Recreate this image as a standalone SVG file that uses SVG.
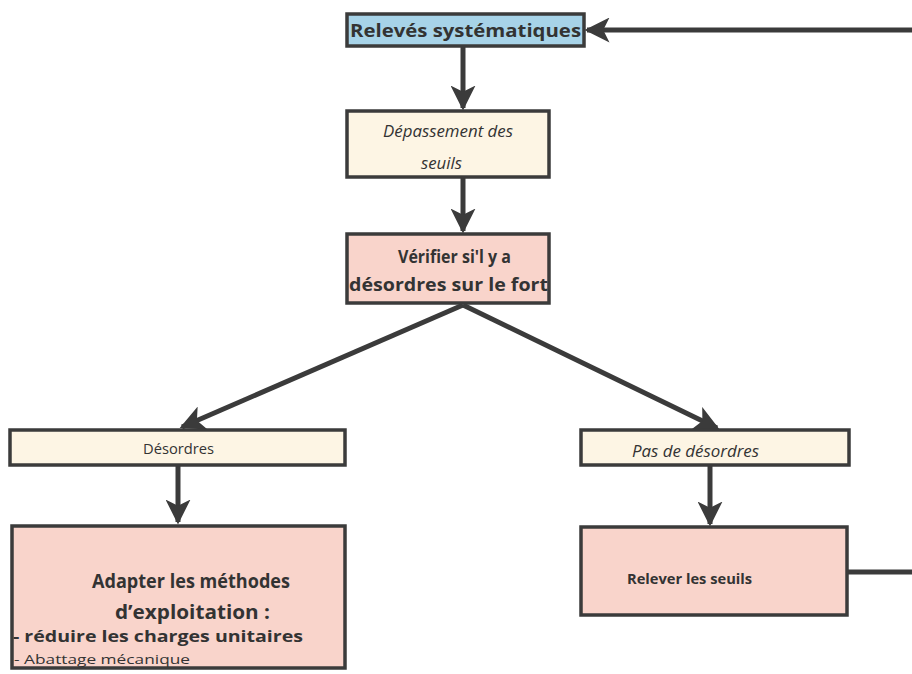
<svg xmlns="http://www.w3.org/2000/svg" width="912" height="674" viewBox="0 0 912 674">
<style>
.box{stroke:#3b3b3b;stroke-width:3.5}
.cream{fill:#fdf5e4}
.pink{fill:#f9d4cb}
.blue{fill:#a7d3e8}
.t{font-family:"Open Sans",Lato,"Liberation Sans",sans-serif;fill:#333}
.b{font-weight:bold}
.i{font-style:italic}
.c{fill:none;stroke:#3b3b3b;stroke-width:5}
</style>
<defs>
<marker id="ah" viewBox="0 0 10 10" refX="9" refY="5" markerWidth="5" markerHeight="5" markerUnits="strokeWidth" orient="auto">
<path d="M0,0 L10,5 L0,10 L2.5,5 Z" fill="#3b3b3b"/>
</marker>
</defs>
<rect width="912" height="674" fill="#ffffff"/>
<g id="connectors">
<line class="c" x1="463" y1="47" x2="463" y2="108" marker-end="url(#ah)"/>
<line class="c" x1="463" y1="178" x2="463" y2="231" marker-end="url(#ah)"/>
<line class="c" x1="463" y1="305" x2="182" y2="427" marker-end="url(#ah)"/>
<line class="c" x1="463" y1="305" x2="717" y2="428" marker-end="url(#ah)"/>
<line class="c" x1="178" y1="466" x2="178" y2="522" marker-end="url(#ah)"/>
<line class="c" x1="710" y1="466" x2="710" y2="524" marker-end="url(#ah)"/>
<polyline class="c" points="848,572 915,572 915,30 587,30" marker-end="url(#ah)"/>
</g>
<g id="n1">
<rect class="box blue" x="347" y="14" width="237" height="32"/>
<text class="t b" x="350" y="37" font-size="18" textLength="231" lengthAdjust="spacingAndGlyphs">Relevés systématiques</text>
</g>
<g id="n2">
<rect class="box cream" x="347" y="111" width="202" height="66"/>
<text class="t i" x="383" y="137" font-size="17" textLength="130" lengthAdjust="spacingAndGlyphs">Dépassement des</text>
<text class="t i" x="421" y="169" font-size="17" textLength="41" lengthAdjust="spacingAndGlyphs">seuils</text>
</g>
<g id="n3">
<rect class="box pink" x="347" y="234" width="202" height="69"/>
<text class="t b" x="398" y="263" font-size="17" textLength="113" lengthAdjust="spacingAndGlyphs">Vérifier si'l y a</text>
<text class="t b" x="349" y="291" font-size="17" textLength="199" lengthAdjust="spacingAndGlyphs">désordres sur le fort</text>
</g>
<g id="n4">
<rect class="box cream" x="10" y="430" width="335" height="35"/>
<text class="t" x="143" y="454" font-size="15" textLength="71" lengthAdjust="spacingAndGlyphs">Désordres</text>
</g>
<g id="n5">
<rect class="box cream" x="581" y="430" width="268" height="35"/>
<text class="t i" x="632" y="457" font-size="16" textLength="127" lengthAdjust="spacingAndGlyphs">Pas de désordres</text>
</g>
<g id="n6">
<rect class="box pink" x="12" y="526" width="333" height="142"/>
<text class="t b" x="92" y="588" font-size="19" textLength="198" lengthAdjust="spacingAndGlyphs">Adapter les méthodes</text>
<text class="t b" x="115" y="619" font-size="19" textLength="155" lengthAdjust="spacingAndGlyphs">d’exploitation :</text>
<text class="t b" x="13" y="642" font-size="16" textLength="290" lengthAdjust="spacingAndGlyphs">- réduire les charges unitaires</text>
<text class="t" x="14" y="664" font-size="13" textLength="176" lengthAdjust="spacingAndGlyphs">- Abattage mécanique</text>
</g>
<g id="n7">
<rect class="box pink" x="581" y="527" width="266" height="88"/>
<text class="t b" x="627" y="584" font-size="15" textLength="125" lengthAdjust="spacingAndGlyphs">Relever les seuils</text>
</g>
</svg>
